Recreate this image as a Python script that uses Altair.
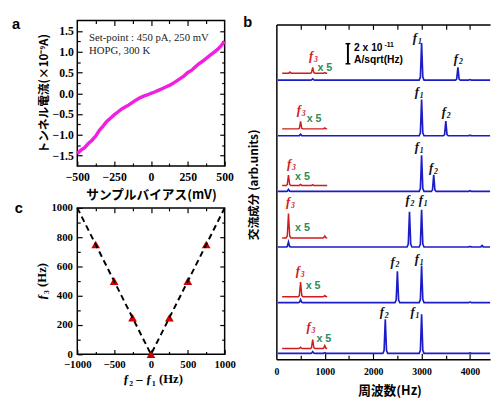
import altair as alt
import pandas as pd

# ---------------- panel a : I-V curve ----------------
bias_mv = list(range(-500, 501, 25))
current_na = [-1.45, -1.37, -1.31, -1.21, -1.13, -1.03, -0.89, -0.79, -0.68, -0.60,
              -0.52, -0.45, -0.38, -0.33, -0.28, -0.22, -0.16, -0.11, -0.07, -0.04,
              0.00, 0.03, 0.07, 0.11, 0.15, 0.19, 0.24, 0.30, 0.36, 0.42,
              0.50, 0.55, 0.63, 0.71, 0.77, 0.84, 0.91, 0.98, 1.05, 1.14, 1.25]
note_text = ["Set-point : 450 pA, 250 mV", "HOPG, 300 K"]
note_x = [-420, -420]
note_y = [1.27, 0.95]

# ---------------- panel c : f3 vs f2-f1 ----------------
diff_hz = [-750, -500, -250, 0, 250, 500, 750]
f3_hz = [750, 500, 250, 0, 250, 500, 750]
guide_x = [-1000, 0, 1000]
guide_y = [1000, 0, 1000]

# ---------------- panel b : spectra ----------------
f1_freq = 3000
f2_freq = [3750, 3500, 3250, 2750, 2500, 2250]
f3_freq = [750, 500, 250, 250, 500, 750]
baseline = [28.6, 22.9, 17.2, 11.5, 5.8, 0.6]
f1_height = [3.8, 3.7, 3.7, 3.8, 3.8, 4.0]
f2_height = [1.3, 1.5, 1.7, 3.6, 3.2, 3.5]
f3_blue_height = [0.12, 0.15, 0.2, 0.5, 0.3, 0.18]
blue_extra = [[(4000, 0.05)], [(4000, 0.06)], [(4000, 0.06)],
              [(4000, 0.06), (4250, 0.15)], [(4000, 0.05)], [(1000, 0.06), (4000, 0.05)]]
red_offset = [0.7, 0.7, 0.6, 0.93, 0.6, 0.5]
red_f3_height = [0.6, 0.76, 1.07, 2.5, 1.5, 0.9]
red_extra = [[(280, 0.12), (1000, 0.08)], [(1000, 0.1)], [(500, 0.1), (750, 0.08)],
             [(1000, 0.2)], [(1000, 0.12)], [(500, 0.12), (1000, 0.3)]]
peak_dx = [-50, -25, -12, 0, 12, 25, 50]
peak_shape = [0.0, 0.08, 0.55, 1.0, 0.55, 0.08, 0.0]

flab_x = [2863, 3710, 2903, 3458, 2903, 3196, 2712, 2984, 2399, 2903, 2177, 2812]
flab_y = [32.5, 30.4, 27.0, 24.9, 21.35, 19.2, 15.9, 15.9, 9.6, 9.9, 4.4, 4.45]
flab_sub = ["1", "2", "1", "2", "1", "2", "2", "1", "2", "1", "2", "1"]
f3lab_x = [716, 464, 262, 242, 443, 665]
f3lab_y = [30.7, 25.1, 19.55, 15.65, 8.6, 2.9]
x5_x = [847, 625, 385, 385, 605, 827]
x5_y = [29.85, 24.6, 18.7, 13.4, 7.5, 2.1]
bar_x = [1478]
bar_y = [30.27]
bar_y2 = [32.33]
cap_x = [1428, 1428]
cap_x2 = [1528, 1528]
cap_y = [30.27, 32.33]

SERIF = "Liberation Serif"
SANS = "Liberation Sans"
JP = "Noto Sans CJK JP"
MAGENTA = "#f020e0"
BLUE = "#1c1cc8"
RED = "#d01c1c"
GREEN = "#2e8b57"
LETTER_FS = 15

W_L, H_L = 151, 342        # left column (panels a and c share one view)
A_H, C_TOP = 149, 192      # panel a occupies 0..149, panel c 192..342
W_B, H_B, B_TOP = 219, 347, 4
X_END = 4415               # right edge of panel b (Hz)


def tick_axis(orient, values, size, shift=0, **kw):
    opts = dict(orient=orient, values=values, tickSize=size, offset=-size + shift,
                domain=False, ticks=True, labels=False, grid=False, tickColor="black",
                tickWidth=1.2, title=None)
    opts.update(kw)
    return alt.Axis(**opts)


def label_opts(fs, pad, fmt):
    return dict(labels=True, labelFont=SERIF, labelFontSize=fs, labelFontWeight="bold",
                labelColor="black", labelPadding=pad, labelFlush=False, labelOverlap=False,
                format=fmt)


def guide_layer(df, xf, xs, yf, ys, xaxis=None, yaxis=None):
    return alt.Chart(df).mark_point(opacity=0, size=1).encode(
        x=alt.X(xf, scale=xs, axis=xaxis), y=alt.Y(yf, scale=ys, axis=yaxis))


def frame(xs, ys, xd, yd):
    d = pd.DataFrame({"x": [xd[0]], "x2": [xd[1]], "y": [yd[0]], "y2": [yd[1]]})
    return alt.Chart(d).mark_rect(fillOpacity=0, stroke="black", strokeWidth=1.5).encode(
        x=alt.X("x:Q", scale=xs, axis=None), x2="x2:Q",
        y=alt.Y("y:Q", scale=ys, axis=None), y2="y2:Q")


def panel_letter(letter, px, py):
    return alt.Chart(pd.DataFrame({"t": [letter]})).mark_text(
        align="left", baseline="alphabetic", font=SANS, fontSize=LETTER_FS, fontWeight="bold",
        color="black").encode(text="t:N", x=alt.value(px), y=alt.value(py))


# ================= panel a =================
df_a = pd.DataFrame({"bias": bias_mv, "cur": current_na})
A_XD, A_YD = [-500, 500], [-1.75, 1.75]
ax_s = alt.Scale(domain=A_XD, range=[0, W_L], nice=False, zero=False)
ay_s = alt.Scale(domain=A_YD, range=[A_H, 0], nice=False, zero=False)
A_SHIFT = -(H_L - A_H)

a_line = alt.Chart(df_a).mark_line(color=MAGENTA, strokeWidth=3.5).encode(
    x=alt.X("bias:Q", scale=ax_s, axis=tick_axis(
        "bottom", [-500, -250, 0, 250, 500], 5, A_SHIFT, **label_opts(12, 6, "d"),
        title="サンプルバイアス(mV)", titleFont=JP, titleFontSize=13, titleFontWeight="bold",
        titleColor="black", titleX=75.5, titleY=34, titleBaseline="middle", titleAlign="center")),
    y=alt.Y("cur:Q", scale=ay_s, axis=tick_axis(
        "left", [-1.5, -1.0, -0.5, 0.0, 0.5, 1.0, 1.5], 5, **label_opts(12, 4, ".1f"),
        title="トンネル電流(×10⁻⁹A)", titleFont=JP, titleFontSize=12, titleFontWeight="bold",
        titleColor="black", titleX=-40, titleY=74.5, titleBaseline="middle", titleAlign="center")),
)
a_minor_x = [-375, -125, 125, 375]
a_minor_y = [-1.25, -0.75, -0.25, 0.25, 0.75, 1.25]
a_notes = alt.Chart(pd.DataFrame({"t": note_text, "x": note_x, "y": note_y})).mark_text(
    align="left", baseline="alphabetic", font=SERIF, fontSize=11, color="#222222").encode(
    x=alt.X("x:Q", scale=ax_s, axis=None), y=alt.Y("y:Q", scale=ay_s, axis=None), text="t:N")


def ga(xaxis=None, yaxis=None):
    return guide_layer(df_a, "bias:Q", ax_s, "cur:Q", ay_s, xaxis, yaxis)


a_layers = [
    frame(ax_s, ay_s, A_XD, A_YD),
    a_line,
    ga(xaxis=tick_axis("top", [-250, 0, 250], 5),
       yaxis=tick_axis("right", [-1.5, -1.0, -0.5, 0.0, 0.5, 1.0, 1.5], 5)),
    ga(xaxis=tick_axis("bottom", a_minor_x, 3, A_SHIFT), yaxis=tick_axis("left", a_minor_y, 3)),
    ga(xaxis=tick_axis("top", a_minor_x, 3), yaxis=tick_axis("right", a_minor_y, 3)),
    a_notes,
    panel_letter("a", -67, 9),
]

# ================= panel c =================
df_c = pd.DataFrame({"d": diff_hz, "f3": f3_hz})
df_g = pd.DataFrame({"d": guide_x, "f3": guide_y, "o": [0, 1, 2]})
C_XD, C_YD = [-1000, 1000], [0, 1000]
cx_s = alt.Scale(domain=C_XD, range=[0, W_L], nice=False, zero=False)
cy_s = alt.Scale(domain=C_YD, range=[H_L, C_TOP], nice=False, zero=False)
C_SHIFT = -C_TOP
C_MID = (H_L + C_TOP) / 2

c_pts = alt.Chart(df_c).mark_point(shape="triangle-up", filled=True, color="#cc0000",
                                   size=80, opacity=1).encode(
    x=alt.X("d:Q", scale=cx_s, axis=tick_axis(
        "bottom", [-1000, -500, 0, 500, 1000], 5, **label_opts(11, 5, "d"),
        title="ƒ₂ – ƒ₁ (Hz)", titleFont=SERIF, titleFontSize=13, titleFontWeight="bold",
        titleColor="black", titleX=77, titleY=30, titleBaseline="middle", titleAlign="center")),
    y=alt.Y("f3:Q", scale=cy_s, axis=tick_axis(
        "left", [0, 200, 400, 600, 800, 1000], 5, **label_opts(11, 5, "d"),
        title="ƒ₃ (Hz)", titleFont=SERIF, titleFontSize=13, titleFontWeight="bold",
        titleColor="black", titleX=-42, titleY=C_MID, titleBaseline="middle",
        titleAlign="center")),
)
c_guide = alt.Chart(df_g).mark_line(color="black", strokeDash=[6, 4], strokeWidth=2).encode(
    x=alt.X("d:Q", scale=cx_s, axis=None), y=alt.Y("f3:Q", scale=cy_s, axis=None), order="o:Q")
c_minor_x = [-750, -250, 250, 750]
c_minor_y = [100, 300, 500, 700, 900]


def gc(xaxis=None, yaxis=None):
    return guide_layer(df_c, "d:Q", cx_s, "f3:Q", cy_s, xaxis, yaxis)


c_layers = [
    frame(cx_s, cy_s, C_XD, C_YD),
    c_pts, c_guide,
    gc(xaxis=tick_axis("top", [-500, 0, 500], 5, C_SHIFT),
       yaxis=tick_axis("right", [200, 400, 600, 800], 5)),
    gc(xaxis=tick_axis("bottom", c_minor_x, 3), yaxis=tick_axis("left", c_minor_y, 3)),
    gc(xaxis=tick_axis("top", c_minor_x, 3, C_SHIFT), yaxis=tick_axis("right", c_minor_y, 3)),
    panel_letter("c", -64, C_TOP + 5),
]

left = alt.layer(*a_layers, *c_layers).resolve_scale(
    x="independent", y="independent").resolve_axis(
    x="independent", y="independent").properties(width=W_L, height=H_L)

# ================= panel b =================


def trace(x_start, x_end, base, peaks):
    pts = [(x_start, base)]
    for f, h in sorted(peaks):
        for dx, s in zip(peak_dx, peak_shape):
            pts.append((f + dx, base + h * s))
    pts.append((x_end, base))
    return pts


blue_rows, red_rows = [], []
for i in range(6):
    peaks = [(f1_freq, f1_height[i]), (f2_freq[i], f2_height[i]),
             (f3_freq[i], f3_blue_height[i])] + blue_extra[i]
    for k, (xv, yv) in enumerate(trace(30, X_END, baseline[i], peaks)):
        blue_rows.append({"s": i, "x": xv, "y": yv, "o": k})
    rpeaks = [(f3_freq[i], red_f3_height[i])] + red_extra[i]
    for k, (xv, yv) in enumerate(trace(120, 1050, baseline[i] + red_offset[i], rpeaks)):
        red_rows.append({"s": i, "x": xv, "y": yv, "o": k})
df_blue = pd.DataFrame(blue_rows)
df_red = pd.DataFrame(red_rows)

bx_s = alt.Scale(domain=[0, X_END], nice=False, zero=False)
by_s = alt.Scale(domain=[0, 34.3], range=[H_B, B_TOP], nice=False, zero=False)

b_blue = alt.Chart(df_blue).mark_line(color=BLUE, strokeWidth=1.7).encode(
    x=alt.X("x:Q", scale=bx_s, axis=alt.Axis(
        orient="bottom", values=[0, 1000, 2000, 3000, 4000], domain=True, domainColor="black",
        domainWidth=1.5, ticks=False, grid=False, **label_opts(10, 8, "d"),
        title="周波数(Hz)", titleFont=JP, titleFontSize=13, titleFontWeight="bold",
        titleColor="black", titleX=116, titleY=32.5, titleBaseline="middle", titleAlign="center")),
    y=alt.Y("y:Q", scale=by_s, axis=alt.Axis(
        orient="left", domain=True, domainColor="black", domainWidth=1.5, ticks=False,
        labels=False, grid=False, title="交流成分 (arb.units)", titleFont=JP, titleFontSize=12,
        titleFontWeight="bold", titleColor="black", titleX=-23, titleY=168,
        titleBaseline="middle", titleAlign="center")),
    detail="s:N", order="o:Q")

b_red = alt.Chart(df_red).mark_line(color=RED, strokeWidth=1.5).encode(
    x=alt.X("x:Q", scale=bx_s, axis=None), y=alt.Y("y:Q", scale=by_s, axis=None),
    detail="s:N", order="o:Q")

df_fl = pd.DataFrame({"x": flab_x, "y": flab_y, "sub": flab_sub, "ch": ["f"] * len(flab_x)})
df_f3 = pd.DataFrame({"x": f3lab_x, "y": f3lab_y, "sub": ["3"] * 6, "ch": ["f"] * 6})


def f_main(df, color):
    return alt.Chart(df).mark_text(
        font=SERIF, fontStyle="italic", fontWeight="bold", fontSize=13,
        align="center", baseline="alphabetic", color=color).encode(
        x=alt.X("x:Q", scale=bx_s, axis=None), y=alt.Y("y:Q", scale=by_s, axis=None),
        text="ch:N")


def f_sub(df, color):
    return alt.Chart(df).mark_text(
        font=SERIF, fontStyle="italic", fontWeight="bold", fontSize=8,
        align="left", baseline="alphabetic", dx=3, dy=2, color=color).encode(
        x=alt.X("x:Q", scale=bx_s, axis=None), y=alt.Y("y:Q", scale=by_s, axis=None),
        text="sub:N")


b_x5 = alt.Chart(pd.DataFrame({"x": x5_x, "y": x5_y, "t": ["x 5"] * 6})).mark_text(
    font=SANS, fontWeight="bold", fontSize=11, align="left", baseline="middle",
    color=GREEN).encode(x=alt.X("x:Q", scale=bx_s, axis=None),
                        y=alt.Y("y:Q", scale=by_s, axis=None), text="t:N")

b_bar = alt.Chart(pd.DataFrame({"x": bar_x, "y": bar_y, "y2": bar_y2})).mark_rule(
    color="black", strokeWidth=2).encode(
    x=alt.X("x:Q", scale=bx_s, axis=None), y=alt.Y("y:Q", scale=by_s, axis=None), y2="y2:Q")
b_caps = alt.Chart(pd.DataFrame({"x": cap_x, "x2": cap_x2, "y": cap_y})).mark_rule(
    color="black", strokeWidth=1.5).encode(
    x=alt.X("x:Q", scale=bx_s, axis=None), x2="x2:Q", y=alt.Y("y:Q", scale=by_s, axis=None))
b_txt_big = alt.Chart(pd.DataFrame({"x": [1605, 1605], "y": [31.93, 30.7],
                                    "t": ["2 x 10", "A/sqrt(Hz)"]})).mark_text(
    font=SANS, fontWeight="bold", fontSize=10.5, align="left", baseline="middle",
    color="black").encode(x=alt.X("x:Q", scale=bx_s, axis=None),
                          y=alt.Y("y:Q", scale=by_s, axis=None), text="t:N")
b_txt_sup = alt.Chart(pd.DataFrame({"x": [2232], "y": [32.2], "t": ["-11"]})).mark_text(
    font=SANS, fontWeight="bold", fontSize=7, align="left", baseline="middle",
    color="black").encode(x=alt.X("x:Q", scale=bx_s, axis=None),
                          y=alt.Y("y:Q", scale=by_s, axis=None), text="t:N")


def gb(xaxis):
    return guide_layer(df_blue, "x:Q", bx_s, "y:Q", by_s, xaxis, None)


panel_b = alt.layer(
    b_blue, b_red,
    gb(tick_axis("bottom", [1000, 2000, 3000, 4000], 6)),
    gb(tick_axis("bottom", [500, 1500, 2500, 3500], 4)),
    gb(alt.Axis(orient="top", offset=-B_TOP, domain=True, domainColor="black",
                domainWidth=1.5, ticks=False, labels=False, grid=False, title=None)),
    gb(tick_axis("top", [500, 1000, 1500, 2000, 2500, 3000, 3500, 4000], 5, -B_TOP)),
    f_main(df_fl, "#111111"), f_sub(df_fl, "#111111"),
    f_main(df_f3, RED), f_sub(df_f3, RED),
    b_x5, b_bar, b_caps, b_txt_big, b_txt_sup,
    panel_letter("b", -34, 7),
).resolve_axis(x="independent", y="independent").properties(width=W_B, height=H_B)

chart = alt.hconcat(left, panel_b, spacing=53, bounds="flush").properties(
    padding={"left": 4, "top": 3, "right": 0, "bottom": 0}
).configure(background="white").configure_view(stroke=None)

chart.save("out.html", embed_options={"renderer": "svg", "actions": False})
